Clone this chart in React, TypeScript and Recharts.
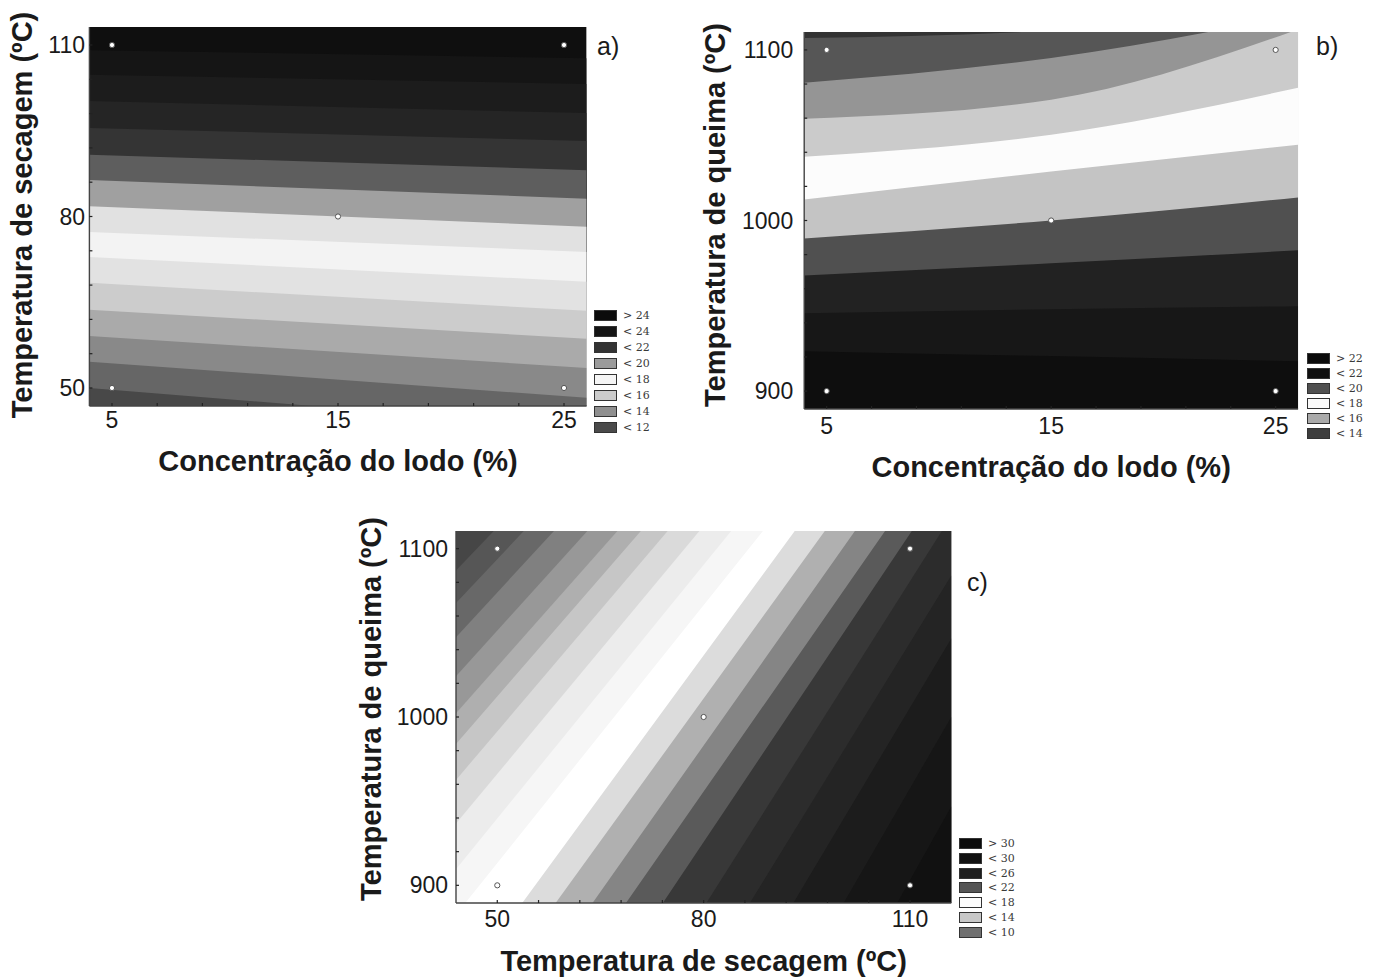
import React from 'react';
import { ComposedChart, Area, Scatter, XAxis, YAxis } from 'recharts';

const FONT = '"Liberation Sans", Arial, sans-serif';
const INK = '#1a1a1a';

// a) concentração do lodo x temperatura de secagem
const lodoTicks = [5, 15, 25];
const lodoMinor = [5, 7, 9, 11, 13, 15, 17, 19, 21, 23, 25];
const secagemTicks = [50, 80, 110];
const secagemMinor = [50, 56, 62, 68, 74, 80, 86, 92, 98, 104, 110];
const queimaTicks = [900, 1000, 1100];
const queimaMinor = [900, 920, 940, 960, 980, 1000, 1020, 1040, 1060, 1080, 1100];
const xsLodo = [4, 26];
const pointsA = [
  { x: 5, y: 110 }, { x: 25, y: 110 }, { x: 15, y: 80 }, { x: 5, y: 50 }, { x: 25, y: 50 },
];
// band limits read at left / right frame edge, from top to bottom
const limitsA = [
  [109.1, 107.7], [104.8, 103.2], [100.2, 98.1], [95.5, 93.2], [90.8, 88.1],
  [86.4, 83.1], [81.8, 78.2], [77.3, 73.8], [72.9, 68.6], [68.4, 63.5],
  [63.7, 58.6], [59.1, 53.5], [54.6, 48.3], [50.0, 43.0],
];
const bandsA = [
  '#0f0f0f', '#151515', '#1c1c1c', '#252525', '#343434', '#5e5e5e', '#a0a0a0', '#e1e1e1',
  '#f3f3f3', '#e2e2e2', '#cccccc', '#aaaaaa', '#898989', '#666666', '#484848',
];
const legendLabelsA = ['> 24', '< 24', '< 22', '< 20', '< 18', '< 16', '< 14', '< 12'];
const legendColorsA = ['#0b0b0b', '#151515', '#333333', '#9b9b9b', '#f5f5f5', '#cccccc', '#8f8f8f', '#4a4a4a'];

// b) concentração do lodo x temperatura de queima
const xsLodoMid = [4, 15, 26];
const pointsB = [
  { x: 5, y: 1100 }, { x: 25, y: 1100 }, { x: 15, y: 1000 }, { x: 5, y: 900 }, { x: 25, y: 900 },
];
const limitsB = [
  [1107.0, 1111.5, 1125], [1080.7, 1095.3, 1120.5], [1059.6, 1070.8, 1112],
  [1037.4, 1050.3, 1077.8], [1012.3, 1028.7, 1044.4], [989.5, 1000, 1013.5],
  [967.8, 974.9, 982.5], [945.6, 948, 949.7], [923.4, 920.5, 917.5],
];
const bandsB = [
  '#333333', '#565656', '#959595', '#cbcbcb', '#fcfcfc', '#c4c4c4', '#505050', '#222222',
  '#171717', '#0e0e0e',
];
const legendLabelsB = ['> 22', '< 22', '< 20', '< 18', '< 16', '< 14'];
const legendColorsB = ['#0b0b0b', '#101010', '#505050', '#fafafa', '#aaaaaa', '#3d3d3d'];

// c) temperatura de secagem x temperatura de queima
const secagemXTicks = [50, 80, 110];
const xsSecagem = [44, 116];
const pointsC = [
  { x: 50, y: 1100 }, { x: 110, y: 1100 }, { x: 80, y: 1000 }, { x: 50, y: 900 }, { x: 110, y: 900 },
];
const limitsC = [
  [1087.1, 1394], [1067.7, 1380.5], [1047.4, 1366.4], [1024.2, 1349.6], [1002.3, 1334.3],
  [984.0, 1322.9], [962.6, 1308.7], [936.7, 1290.4], [909.6, 1271.2], [882.6, 1250.3],
  [835.8, 1237.5], [807.7, 1214.4], [774.5, 1191.7], [744.5, 1167.0], [705.9, 1145.6],
  [654.5, 1119.4], [605.6, 1084.1], [553.7, 1046.7], [491.6, 1000], [422.1, 946.8],
];
const bandsC = [
  '#464646', '#565656', '#686868', '#808080', '#989898', '#afafaf', '#c6c6c6', '#dadada',
  '#ececec', '#f6f6f6', '#ffffff', '#dcdcdc', '#b0b0b0', '#858585', '#5a5a5a', '#383838',
  '#2c2c2c', '#242424', '#1c1c1c', '#161616', '#111111',
];
const legendLabelsC = ['> 30', '< 30', '< 26', '< 22', '< 18', '< 14', '< 10'];
const legendColorsC = ['#0b0b0b', '#111111', '#1e1e1e', '#555555', '#fcfcfc', '#c8c8c8', '#707070'];

type PanelProps = {
  left: number; top: number; width: number; height: number;
  margin: { top: number; right: number; bottom: number; left: number };
  yAxisWidth: number;
  xDomain: [number, number]; yDomain: [number, number];
  xTicks: number[]; yTicks: number[];
  xMinor: number[]; yMinor: number[];
  xs: number[]; limits: number[][]; bands: string[];
  points: { x: number; y: number }[];
  curve: 'linear' | 'monotone';
  xGap: number; yGap: number;
  xTitle: string; xTitleY: number;
  yTitle: string; yTitleX: number; yTitleY: number;
};

const dotShape = (props: any) => (
  <circle cx={props.cx} cy={props.cy} r={2.6} fill="#ffffff" stroke="#555" strokeWidth={1} />
);

function ContourPanel(p: PanelProps) {
  const rows = p.xs.map((x, j) => {
    const row: Record<string, number> = { x, bg: p.yDomain[1] + 100 };
    p.limits.forEach((l, i) => {
      row['b' + i] = l[j];
    });
    return row;
  });
  const plotW = p.width - p.margin.left - p.margin.right - p.yAxisWidth;
  const xCenter = p.margin.left + p.yAxisWidth + plotW / 2;
  const tick = { fontSize: 23, fill: INK, fontFamily: FONT };
  const frame = { stroke: '#444', strokeWidth: 1.4 };
  const tickMark = { stroke: '#222', strokeWidth: 1.2 };
  const titleProps = { fontSize: 29, fontWeight: 'bold', fontFamily: FONT, fill: INK };
  const majorOnly = (list: number[]) => (v: number) => (list.includes(v) ? String(v) : '');

  return (
    <div style={{ position: 'absolute', left: p.left, top: p.top }}>
      <ComposedChart width={p.width} height={p.height} margin={p.margin} data={rows}>
        <Area dataKey="bg" type="linear" fill={p.bands[0]} fillOpacity={1} stroke="none"
          baseValue="dataMin" isAnimationActive={false} dot={false} activeDot={false} />
        {p.limits.map((_, i) => (
          <Area key={i} dataKey={'b' + i} type={p.curve} fill={p.bands[i + 1]} fillOpacity={1}
            stroke="none" baseValue="dataMin" isAnimationActive={false} dot={false} activeDot={false} />
        ))}
        <Scatter data={p.points} dataKey="y" shape={dotShape} isAnimationActive={false} />
        <XAxis dataKey="x" type="number" domain={p.xDomain} ticks={p.xMinor} interval={0} allowDataOverflow
          height={30} tickLine={tickMark} tickSize={-3} tickMargin={p.xGap + 3} axisLine={frame} tick={tick}
          tickFormatter={majorOnly(p.xTicks)}
          label={{
            content: () => (
              <text x={xCenter} y={p.xTitleY} dy="0.72em" textAnchor="middle" {...titleProps}>
                {p.xTitle}
              </text>
            ),
          }} />
        <YAxis type="number" domain={p.yDomain} ticks={p.yMinor} interval={0} allowDataOverflow
          width={p.yAxisWidth} tickLine={tickMark} tickSize={-3} tickMargin={p.yGap + 3} axisLine={frame} tick={tick}
          tickFormatter={majorOnly(p.yTicks)}
          label={{
            content: () => (
              <text x={p.yTitleX} y={p.yTitleY} textAnchor="middle" dominantBaseline="central"
                transform={`rotate(-90, ${p.yTitleX}, ${p.yTitleY})`} {...titleProps}>
                {p.yTitle}
              </text>
            ),
          }} />
        <XAxis xAxisId="top" orientation="top" type="number" domain={p.xDomain} ticks={p.xMinor}
          interval={0} height={0} tick={false} tickLine={tickMark} tickSize={-3} axisLine={frame} />
        <YAxis yAxisId="right" orientation="right" type="number" domain={p.yDomain} ticks={p.yMinor}
          interval={0} width={0} tick={false} tickLine={tickMark} tickSize={-3} axisLine={frame} />
      </ComposedChart>
    </div>
  );
}

function ContourLegend({ left, top, step, labels, colors }: {
  left: number; top: number; step: number; labels: string[]; colors: string[];
}) {
  return (
    <div style={{ position: 'absolute', left, top }}>
      {labels.map((l, i) => (
        <div key={l} style={{ position: 'absolute', left: 0, top: i * step, height: 11, display: 'flex', alignItems: 'center', whiteSpace: 'nowrap' }}>
          <span style={{ display: 'inline-block', width: 23, height: 11, boxSizing: 'border-box', background: colors[i], border: '1px solid #333' }} />
          <span style={{ marginLeft: 6, fontFamily: '"DejaVu Serif", serif', fontSize: 11, color: '#3a3a3a' }}>{l}</span>
        </div>
      ))}
    </div>
  );
}

const panelTag = (text: string, left: number, top: number) => (
  <div style={{ position: 'absolute', left, top, fontFamily: FONT, fontSize: 25, color: INK, lineHeight: '25px' }}>
    {text}
  </div>
);

export default function App() {
  return (
    <div style={{ position: 'absolute', left: 0, top: 0, width: 1373, height: 977, background: '#fff' }}>
      <ContourPanel
        left={0} top={0} width={600} height={480}
        margin={{ top: 27, right: 13.4, bottom: 44, left: 0 }} yAxisWidth={89.4}
        xDomain={[4, 26]} yDomain={[46.85, 113.15]} xTicks={lodoTicks} yTicks={secagemTicks}
        xMinor={lodoMinor} yMinor={secagemMinor}
        xs={xsLodo} limits={limitsA} bands={bandsA} points={pointsA} curve="linear"
        xGap={6} yGap={4.4}
        xTitle="Concentração do lodo (%)" xTitleY={450}
        yTitle="Temperatura de secagem (ºC)" yTitleX={22} yTitleY={215}
      />
      <ContourPanel
        left={700} top={0} width={620} height={490}
        margin={{ top: 32, right: 21.9, bottom: 51, left: 0 }} yAxisWidth={104.2}
        xDomain={[4, 26]} yDomain={[889.5, 1110.5]} xTicks={lodoTicks} yTicks={queimaTicks}
        xMinor={lodoMinor} yMinor={queimaMinor}
        xs={xsLodoMid} limits={limitsB} bands={bandsB} points={pointsB} curve="monotone"
        xGap={9} yGap={11}
        xTitle="Concentração do lodo (%)" xTitleY={456}
        yTitle="Temperatura de queima (ºC)" yTitleX={15} yTitleY={215}
      />
      <ContourPanel
        left={340} top={500} width={640} height={477}
        margin={{ top: 31, right: 28.7, bottom: 44, left: 0 }} yAxisWidth={116}
        xDomain={[44, 116]} yDomain={[889.5, 1110.5]} xTicks={secagemXTicks} yTicks={queimaTicks}
        xMinor={secagemMinor} yMinor={queimaMinor}
        xs={xsSecagem} limits={limitsC} bands={bandsC} points={pointsC} curve="linear"
        xGap={8} yGap={8}
        xTitle="Temperatura de secagem (ºC)" xTitleY={450}
        yTitle="Temperatura de queima (ºC)" yTitleX={31} yTitleY={209}
      />
      <ContourLegend left={594} top={310} step={16} labels={legendLabelsA} colors={legendColorsA} />
      <ContourLegend left={1307} top={353} step={15} labels={legendLabelsB} colors={legendColorsB} />
      <ContourLegend left={959} top={838} step={14.8} labels={legendLabelsC} colors={legendColorsC} />
      {panelTag('a)', 597, 34)}
      {panelTag('b)', 1316, 34)}
      {panelTag('c)', 967, 570)}
    </div>
  );
}
